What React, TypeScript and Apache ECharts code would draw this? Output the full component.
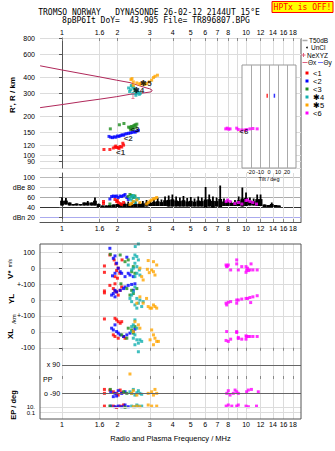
import React, { useEffect, useRef } from "react";
import * as echarts from "echarts";

// ---------- axis ticks ----------
const freqLabelTicks = [1, 1.6, 2, 3, 4, 5, 6, 7, 8, 10, 12, 14, 16, 18];
const freqGridTicks = [1, 1.6, 2, 3, 4, 5, 6, 7, 8, 9, 10, 12, 14, 16, 18];
const freqMin = 0.759;
const freqMax = 19.9;
const heightTicks = [80, 90, 100, 120, 150, 200, 300, 400, 600, 800];
const heightMin = 80;
const heightMax = 800;
const dbTicks = [20, 40, 60, 80, 100];
const dbTickLabels = ["dBn 20", "40", "60", "dBe 80", "100"];
const dbMin = 11;
const dbMax = 109;
const driftTicks = [0, 100, 200, 300, 400, 500, 600];
const driftTickLabels = ["-100", "0", "+-100", "0", "+-100", "0", "100"];
const driftMin = -58;
const driftMax = 652;
const epTicks = [-180, -212];
const epTickLabels = ["10.", "0.1"];
const epMin = -254;
const epMax = 140;
const tiltTicks = [-20, -10, 0, 10, 20];
const tiltMin = -30;
const tiltMax = 30;
const insetHMin = 79;
const insetHMax = 494;

// ---------- model profile (R' vs f) ----------
const profileF = [0.76, 1.0, 1.3, 1.61, 1.98, 2.34, 2.76, 3.0, 3.09, 3.05, 2.76, 2.34, 1.98, 1.61, 1.3, 1.0, 0.76];
const profileR = [489, 454, 424, 401, 379, 363, 336, 325, 317, 308, 302, 295, 283, 271, 260, 246, 233];

// ---------- echo heights (panel 1) ----------
const h1F = [1.69, 1.82, 1.9, 1.94, 1.98, 2.02, 2.07, 2.11, 2.16, 2.14, 1.96, 2.04];
const h1R = [111, 111, 114, 116, 115, 115, 117, 116, 120, 124, 118, 113];
const h2F = [1.8, 1.84, 1.88, 1.92, 1.96, 2.0, 2.04, 2.08, 2.12, 2.16, 2.2, 2.25, 2.3, 2.35, 2.4, 2.46, 2.5, 2.55, 2.6];
const h2R = [140, 138, 137, 139, 138, 141, 140, 142, 144, 143, 146, 147, 148, 149, 150, 152, 151, 154, 156];
const h3F = [1.83, 2.05, 2.17, 2.3, 2.34, 2.38, 2.42, 2.46, 2.5, 2.55, 2.44, 2.36, 2.52];
const h3R = [160, 172, 176, 165, 163, 167, 166, 170, 172, 174, 160, 158, 165];
const h4F = [2.3, 2.33, 2.36, 2.4, 2.43, 2.46, 2.5, 2.53, 2.56, 2.6, 2.63, 2.66, 2.38, 2.45, 2.52];
const h4R = [330, 310, 320, 340, 300, 325, 315, 300, 310, 305, 295, 300, 345, 335, 290];
const h5F = [2.37, 2.44, 2.55, 2.65, 2.76, 2.88, 2.98, 3.07, 3.14, 3.2, 3.3, 2.44, 2.65, 2.82, 2.4];
const h5R = [383, 368, 361, 357, 361, 357, 368, 379, 397, 406, 414, 346, 351, 351, 390];
const h6F = [7.76, 7.9, 8.05, 8.19, 8.9, 9.08, 9.48, 9.88, 10.1, 10.5, 10.9, 11.5];
const h6R = [160, 162, 159, 160, 162, 158, 157, 157, 158, 160, 161, 160];
const layerLabels = ["<1", "<2", "<3", "\u27314", "\u27315", "<6"];
const layerLabelF = [2.08, 2.29, 2.49, 2.6, 2.86, 9.73];
const layerLabelR = [106, 134, 158, 313, 357, 153];
const neF = [2.43];
const neR = [287];

// ---------- tilt inset ----------
const tiltXVals = [-2];
const tiltXR = [286];
const tiltYVals = [6];
const tiltYR = [286];

// ---------- amplitude panel ----------
const t50F = [1.0, 1.05, 1.1, 1.15, 1.2, 1.26, 1.32, 1.38, 1.45, 1.51, 1.58, 1.66, 1.74, 1.82, 1.91, 2.0, 2.09, 2.19, 2.29, 2.4, 2.51, 2.63, 2.75, 2.88, 3.02, 3.16, 3.31, 3.47, 3.63, 3.8, 3.98, 4.17, 4.37, 4.57, 4.79, 5.01, 5.25, 5.5, 5.75, 6.03, 6.31, 6.61, 6.92, 7.24, 7.59, 7.94, 8.32, 8.71, 9.12, 9.55, 10.0, 10.5, 11.0, 11.5, 12.0, 12.6, 13.2, 13.8, 14.5, 15.1];
const t50Hi = [60, 59, 50, 47, 48, 47, 50, 53, 50, 60, 48, 44, 44, 45, 46, 47, 48, 50, 52, 50, 52, 50, 53, 55, 54, 57, 59, 56, 62, 64, 66, 62, 60, 63, 59, 61, 58, 62, 60, 81, 66, 62, 60, 84, 58, 56, 52, 55, 62, 80, 70, 60, 58, 66, 66, 46, 45, 50, 45, 44];
const t50Lo = [44, 46, 44, 44, 44, 44, 44, 44, 44, 44, 41, 41, 41, 41, 41, 41, 41, 41, 41, 41, 41, 41, 41, 42, 43, 43, 43, 43, 43, 42, 42, 42, 42, 42, 42, 42, 42, 42, 42, 40, 42, 40, 42, 41, 43, 43, 43, 43, 43, 42, 43, 44, 44, 43, 43, 41, 41, 41, 41, 41];
const a1F = [1.68, 1.68, 1.94, 1.98, 2.02, 2.07, 2.11, 2.16, 2.0];
const a1 = [52, 48, 56, 52, 50, 48, 46, 50, 54];
const a2F = [1.82, 1.86, 1.9, 1.94, 1.98, 2.02, 2.07, 2.11, 2.16, 2.2, 2.25, 2.29];
const a2 = [57, 62, 63, 62, 63, 60, 63, 62, 64, 66, 60, 56];
const a3F = [1.82, 2.29, 2.34, 2.39, 2.44, 2.49];
const a3 = [47, 62, 66, 64, 60, 63];
const a4F = [2.34, 2.39, 2.44, 2.49, 2.55, 2.6, 2.44, 2.39, 2.5];
const a4 = [58, 62, 64, 60, 56, 58, 52, 55, 50];
const a5F = [2.34, 2.39, 2.44, 2.55, 2.65, 2.88, 2.94, 3.01, 3.07, 3.14, 3.2, 3.27];
const a5 = [46, 48, 52, 55, 50, 47, 50, 53, 55, 57, 58, 60];
const a6F = [7.8, 7.95, 8.2, 8.7, 9.1, 9.5, 10.0, 10.2, 10.5, 10.9, 11.4];
const a6 = [52, 55, 52, 48, 50, 47, 54, 55, 52, 50, 47];

// ---------- drift panel: V* (m/s), YL (km), XL (km) ----------
const v1F = [1.7, 1.7, 1.82, 1.92, 1.96, 1.98, 2.02, 2.06, 2.12, 1.94, 2.0];
const v1 = [14, -26, 83, 52, 27, -15, 0, -32, 52, -53, -63];
const yl1F = [1.7, 1.7, 1.82, 1.9, 1.94, 1.98, 2.07, 2.11, 2.02, 1.94];
const yl1 = [57, 45, 92, 72, 57, 51, 61, 82, 31, 102];
const xl1F = [1.7, 1.94, 1.98, 2.02, 2.07, 2.11, 1.94, 2.02, 1.9, 2.16, 2.2];
const xl1 = [81, 85, 75, 64, 54, 64, -29, -40, -19, -29, -40];

const v2F = [1.82, 1.94, 1.9, 1.98, 2.02, 2.07, 2.11, 2.2, 2.25, 2.29, 2.34, 2.44, 1.94, 1.88];
const v2 = [125, 77, 62, 31, 0, -22, -32, -53, 69, -32, -43, -53, -32, -48];
const yl2F = [1.86, 1.9, 1.94, 1.98, 2.07, 2.16, 2.2, 2.29, 2.39, 2.49, 2.44, 1.94];
const yl2 = [31, 41, 61, 51, 61, 72, 82, 92, 98, 102, 61, 20];
const xl2F = [1.86, 1.9, 1.98, 2.02, 2.07, 2.16, 2.25, 2.34, 2.44, 1.94, 2.49];
const xl2 = [23, 12, 2, -8, -19, -29, -19, -8, 2, 44, 17];

const v3F = [1.83, 2.07, 2.2, 2.39, 2.44, 2.49, 2.29];
const v3 = [87, 83, 41, -22, 10, -32, 52];
const yl3F = [2.09, 2.25, 2.39, 2.44, 2.55, 2.34];
const yl3 = [102, 72, 61, 41, 72, 31];
const xl3F = [2.11, 2.29, 2.39, 2.44, 2.49, 2.25];
const xl3 = [-19, 23, 12, -8, 33, -40];

const v4F = [2.55, 2.6, 2.5, 2.49, 2.55, 2.44, 2.6, 2.49, 2.55, 2.44, 2.63, 2.39, 2.55, 2.49, 2.65, 2.29];
const v4 = [167, 152, 136, 83, 73, 62, 52, 31, 10, 0, -11, -11, -32, -53, -43, 20];
const yl4F = [2.49, 2.44, 2.39, 2.55, 2.65, 2.6, 2.49, 2.39, 2.71, 2.55, 2.34, 2.76];
const yl4 = [82, 51, 31, 10, 0, -20, -31, -10, -41, -51, 10, -10];
const xl4F = [2.49, 2.44, 2.55, 2.39, 2.49, 2.44, 2.55, 2.6, 2.49, 2.65, 2.71, 2.39, 2.6];
const xl4 = [75, 44, 23, 2, -19, -40, -50, -71, -81, -50, -60, 33, -125];

const v5F = [2.94, 3.14, 3.27, 2.91, 2.98, 3.07, 3.14, 2.65, 2.71, 2.76, 3.2];
const v5 = [48, 41, 20, -7, -28, -11, -22, 0, -53, -74, -43];
const yl5F = [2.88, 2.94, 3.01, 3.14, 3.07, 3.2, 3.27, 2.76, 2.65, 2.55];
const yl5 = [10, -41, -51, -31, -51, -41, -51, -20, 20, -20];
const xl5F = [2.49, 2.6, 2.65, 2.44, 3.07, 3.14, 3.2, 3.27, 3.34, 3.14, 3.01];
const xl5 = [64, 44, 23, 2, 12, -19, -40, -60, -60, -81, -50];

const v6F = [7.79, 7.91, 8.01, 7.85, 8.9, 8.9, 8.25, 9.08, 9.48, 10.0, 10.08, 10.3, 10.5, 10.65, 10.9, 11.5, 10.0, 10.2];
const v6 = [20, 14, 20, 10, 52, 27, -11, -11, 10, 10, -11, -15, -11, 27, -11, -11, -26, 0];
const yl6F = [7.79, 7.85, 8.01, 8.25, 8.9, 8.9, 9.08, 9.48, 10.0, 10.2, 10.5, 10.9, 11.5, 10.6];
const yl6 = [-20, -31, -14, -10, 0, -20, 0, 6, 10, 10, 16, 20, 27, -16];
const xl6F = [7.85, 7.79, 8.01, 8.25, 8.9, 8.9, 9.08, 9.48, 10.0, 10.08, 10.3, 10.5, 10.9, 11.5, 10.0, 9.08];
const xl6 = [2, -54, -60, -46, 2, -4, -35, -46, -25, -29, -29, -29, -29, -29, -46, -42];

// ---------- polarization panel EP (deg) ----------
const ep1F = [1.7, 1.7, 1.82, 1.9, 1.98, 2.02, 2.07, 2.11, 1.7, 1.9, 1.98, 2.07, 2.16];
const ep1 = [-66, -91, -70, -81, -91, -102, -70, -87, -172, -172, -180, -172, -165];
const ep2F = [1.84, 1.94, 1.98, 2.02, 2.11, 2.2, 1.9, 1.84, 1.94, 2.02, 2.11, 2.2, 2.29];
const ep2 = [-81, -91, -108, -74, -91, -81, -112, -172, -176, -172, -176, -165, -176];
const ep3F = [1.83, 2.16, 2.25, 1.82, 2.2];
const ep3 = [-66, -81, -91, -172, -180];
const ep4F = [2.34, 2.39, 2.44, 2.49, 2.55, 2.6, 2.65, 2.71, 2.39, 2.49, 2.6, 2.71, 2.55];
const ep4 = [-81, -91, -66, -102, -87, -74, -91, -97, -172, -176, -172, -172, -165];
const ep5F = [2.39, 2.44, 2.55, 2.94, 3.07, 3.14, 3.27, 3.2, 2.44, 2.55, 2.94, 3.07, 3.27, 2.65, 2.34];
const ep5 = [-91, -74, -102, -91, -81, -102, -91, -66, -176, -172, -165, -172, -172, -176, 32];
const ep6F = [7.86, 8.01, 8.72, 8.9, 9.08, 10.08, 10.3, 10.7, 11.66, 8.19, 8.53, 7.8, 8.01, 8.9, 9.08, 10.0, 10.3, 11.4, 8.37];
const ep6 = [-91, -74, -70, -81, -91, -81, -70, -66, -81, -102, -91, -172, -165, -172, -165, -172, -176, -172, -172];
const epLines = [90, -90];
const epLineLabels = ["x 90", "o -90"];

// ---------- styling ----------
const RED = "#ff0000";
const BLUE = "#0000ff";
const GREEN = "#1e8c1e";
const CYAN = "#12afaf";
const ORANGE = "#ffa500";
const MAGENTA = "#ff00ff";
const PINK = "#e0607e";
const PROFILE = "#b0285a";
const FONT = "Liberation Sans";
const MONO = "'DejaVu Sans Mono', 'Liberation Mono', monospace";
const GRIDC = "#dcdcdc";
const AXC = "#555";

const L = Math.log10;
const fmtFreq = (v: number) => String(Math.round(Math.pow(10, v) * 10) / 10);
const pts = (fs: number[], vs: number[], off = 0) => fs.map((f, i) => [L(f), vs[i] + off]);
const ptsLog = (fs: number[], rs: number[]) => fs.map((f, i) => [L(f), L(rs[i])]);

function freqAxis(gridIndex: number, o: any) {
  return {
    type: "value",
    gridIndex,
    min: L(freqMin),
    max: L(freqMax),
    position: o.position,
    axisLine: { show: !!o.line, lineStyle: { color: AXC, width: 1 } },
    axisTick: { show: true, inside: true, length: 3, customValues: freqGridTicks.map(L), lineStyle: { color: "#888" } },
    axisLabel: {
      show: !!o.labels,
      customValues: freqLabelTicks.map(L),
      formatter: fmtFreq,
      fontSize: 7,
      fontFamily: FONT,
      color: "#000",
      margin: o.margin ?? 3,
    },
    splitLine: { show: true, lineStyle: { color: GRIDC, width: 1 } },
    name: o.name,
    nameLocation: "middle",
    nameGap: o.nameGap,
    nameTextStyle: { fontSize: 7.5, fontFamily: FONT, color: "#000" },
  };
}

function scat(idx: number, data: any[], color: string, z = 3) {
  return {
    type: "scatter",
    xAxisIndex: idx,
    yAxisIndex: idx,
    data,
    symbol: "rect",
    symbolSize: 3,
    itemStyle: { color },
    silent: true,
    z,
  };
}

function buildOption(): any {
  const colors = [RED, BLUE, GREEN, CYAN, ORANGE, MAGENTA];
  const hF = [h1F, h2F, h3F, h4F, h5F, h6F];
  const hR = [h1R, h2R, h3R, h4R, h5R, h6R];
  const aF = [a1F, a2F, a3F, a4F, a5F, a6F];
  const aV = [a1, a2, a3, a4, a5, a6];
  const vF = [v1F, v2F, v3F, v4F, v5F, v6F];
  const vV = [v1, v2, v3, v4, v5, v6];
  const yF = [yl1F, yl2F, yl3F, yl4F, yl5F, yl6F];
  const yV = [yl1, yl2, yl3, yl4, yl5, yl6];
  const xF = [xl1F, xl2F, xl3F, xl4F, xl5F, xl6F];
  const xV = [xl1, xl2, xl3, xl4, xl5, xl6];
  const eF = [ep1F, ep2F, ep3F, ep4F, ep5F, ep6F];
  const eV = [ep1, ep2, ep3, ep4, ep5, ep6];

  const series: any[] = [];
  // panel 1
  series.push({
    type: "line",
    xAxisIndex: 0,
    yAxisIndex: 0,
    data: ptsLog(profileF, profileR),
    showSymbol: false,
    symbol: "none",
    lineStyle: { color: PROFILE, width: 1 },
    silent: true,
    z: 2,
  });
  for (let i = 0; i < 6; i++) series.push(scat(0, ptsLog(hF[i], hR[i]), colors[i], 4));
  series.push({
    type: "scatter",
    xAxisIndex: 0,
    yAxisIndex: 0,
    data: ptsLog(neF, neR),
    symbol: "path://M0 0h3v1h-1v5h1v1h-3v-1h1v-5h-1z",
    symbolSize: [3, 6],
    itemStyle: { color: PINK },
    silent: true,
    z: 5,
  });
  series.push({
    type: "scatter",
    xAxisIndex: 0,
    yAxisIndex: 0,
    symbolSize: 0,
    silent: true,
    z: 6,
    data: layerLabelF.map((f, i) => ({
      value: [L(f), L(layerLabelR[i])],
      label: {
        show: true,
        position: "inside",
        formatter: layerLabels[i],
        fontSize: 8,
        fontWeight: "bold",
        fontFamily: FONT,
        color: "#000",
      },
    })),
  });
  // inset tilt
  series.push({
    type: "scatter",
    xAxisIndex: 1,
    yAxisIndex: 1,
    data: tiltXVals.map((t, i) => [t, L(tiltXR[i])]),
    symbol: "rect",
    symbolSize: [1.5, 4],
    itemStyle: { color: RED },
    z: 6,
  });
  series.push({
    type: "scatter",
    xAxisIndex: 1,
    yAxisIndex: 1,
    data: tiltYVals.map((t, i) => [t, L(tiltYR[i])]),
    symbol: "rect",
    symbolSize: [1.5, 4],
    itemStyle: { color: BLUE },
    z: 6,
  });
  // panel 2: T50 noise trace (body + spike per column)
  series.push({
    type: "custom",
    xAxisIndex: 2,
    yAxisIndex: 2,
    silent: true,
    clip: true,
    z: 2,
    encode: { x: 0, y: [1, 2] },
    data: t50F.map((f, i) => [L(f), t50Lo[i], t50Hi[i]]),
    renderItem: (params: any, api: any) => {
      const x = api.value(0);
      const lo = api.value(1);
      const hi = api.value(2);
      const body = Math.min(hi, lo + Math.min(16, Math.max(6, 0.6 * (hi - lo))));
      const pLo = api.coord([x, lo]);
      const pBody = api.coord([x, body]);
      const pHi = api.coord([x, hi]);
      return {
        type: "group",
        children: [
          { type: "rect", shape: { x: pLo[0] - 1.9, y: pBody[1], width: 3.8, height: pLo[1] - pBody[1] }, style: { fill: "#000" } },
          { type: "rect", shape: { x: pLo[0] - 0.9, y: pHi[1], width: 1.8, height: pLo[1] - pHi[1] }, style: { fill: "#000" } },
        ],
      };
    },
  });
  for (let i = 0; i < 6; i++) series.push(scat(2, pts(aF[i], aV[i]), colors[i], 4));
  // panel 3
  for (let i = 0; i < 6; i++)
    series.push(
      scat(3, [...pts(vF[i], vV[i], 500), ...pts(yF[i], yV[i], 300), ...pts(xF[i], xV[i], 100)], colors[i], 4)
    );
  // panel 4
  for (let i = 0; i < 6; i++) series.push(scat(4, pts(eF[i], eV[i]), colors[i], 4));
  series.push({
    type: "scatter",
    xAxisIndex: 4,
    yAxisIndex: 4,
    data: [],
    silent: true,
    z: 1,
    markLine: {
      silent: true,
      symbol: "none",
      animation: false,
      label: { show: true, position: "start", distance: 2, fontSize: 7, fontFamily: FONT, color: "#000" },
      data: [
        ...epLines.map((v, i) => [
          { coord: [L(1), v], label: { formatter: epLineLabels[i] }, lineStyle: { color: "#666", width: 1, type: "solid" } },
          { coord: [L(freqMax), v] },
        ]),
        ...epTicks.map((v, i) => [
          {
            coord: [L(freqMin), v],
            label: { formatter: epTickLabels[i], distance: 5, fontSize: 6, lineHeight: 5, offset: [0, i === 0 ? -0.5 : 0.5] },
            lineStyle: { color: GRIDC, width: 1, type: "solid" },
          },
          { coord: [L(freqMax), v] },
        ]),
      ],
    },
  });

  const yLabel = (custom: number[], fmt: (v: number) => string) => ({
    customValues: custom,
    formatter: fmt,
    fontSize: 7,
    fontFamily: FONT,
    color: "#000",
    margin: 5,
    hideOverlap: false,
  });

  const tstyle = (extra: any) => ({ fontFamily: FONT, fontSize: 7, fill: "#000", verticalAlign: "middle", ...extra });
  const legendY = [73, 81, 89, 97, 105, 113];

  const graphic: any[] = [
    { type: "text", x: 149, y: 12.5, style: { text: "TROMSO NORWAY   DYNASONDE 26-02-12 2144UT 15\u00b0E", fontFamily: MONO, fontSize: 8, fill: "#000", align: "center", verticalAlign: "middle" } },
    { type: "text", x: 156, y: 20, style: { text: "8pBP6It DoY=  43.905 File= TR896807.BPG", fontFamily: MONO, fontSize: 8, fill: "#000", align: "center", verticalAlign: "middle" } },
    { type: "rect", shape: { x: 272, y: 1.5, width: 61, height: 11 }, style: { fill: "#ffff00", stroke: "#ff0000", lineWidth: 1 } },
    { type: "text", x: 302.5, y: 7.3, style: { text: "HPTx is OFF!", fontFamily: MONO, fontSize: 8, fill: "#ff0000", align: "center", verticalAlign: "middle" } },
    // panel frames
    { type: "line", shape: { x1: 301, y1: 38, x2: 301, y2: 222 }, style: { stroke: AXC, lineWidth: 1 } },
    { type: "rect", shape: { x: 40, y: 244, width: 261, height: 175 }, style: { fill: "none", stroke: AXC, lineWidth: 1 }, z: 10 },
    // axis titles
    { type: "text", x: 12, y: 95, rotation: Math.PI / 2, style: tstyle({ text: "R', R / km", align: "center", fontWeight: "bold", fontSize: 8 }) },
    { type: "text", x: 10, y: 269, rotation: Math.PI / 2, style: { text: "{a|V*} {b|m/s}", align: "center", verticalAlign: "middle", rich: { a: { fontSize: 8, fontWeight: "bold", fontFamily: FONT, fill: "#000" }, b: { fontSize: 5, fontFamily: FONT, fill: "#000" } } } },
    { type: "text", x: 11, y: 299, rotation: Math.PI / 2, style: tstyle({ text: "YL", align: "center", fontWeight: "bold", fontSize: 8 }) },
    { type: "text", x: 14, y: 319, rotation: Math.PI / 2, style: tstyle({ text: "/km", align: "center", fontSize: 6 }) },
    { type: "text", x: 10.5, y: 334, rotation: Math.PI / 2, style: tstyle({ text: "XL", align: "center", fontWeight: "bold", fontSize: 8 }) },
    { type: "text", x: 13, y: 405, rotation: Math.PI / 2, style: tstyle({ text: "EP / deg", align: "center", fontWeight: "bold", fontSize: 7.5 }) },
    { type: "text", x: 43, y: 379, style: tstyle({ text: "PP" }) },
    // legend
    { type: "line", shape: { x1: 302.5, y1: 40.5, x2: 307.5, y2: 40.5 }, style: { stroke: "#aaa", lineWidth: 1.5 } },
    { type: "text", x: 309, y: 40.5, style: tstyle({ text: "T50dB", fontSize: 6.5 }) },
    { type: "circle", shape: { cx: 307, cy: 47.5, r: 0.8 }, style: { fill: "#000" } },
    { type: "text", x: 311, y: 47.5, style: tstyle({ text: "UnCl", fontSize: 6.5 }) },
    { type: "line", shape: { x1: 301.5, y1: 55, x2: 305.5, y2: 55 }, style: { stroke: PINK, lineWidth: 1 } },
    { type: "line", shape: { x1: 303.5, y1: 53, x2: 303.5, y2: 57 }, style: { stroke: PINK, lineWidth: 1 } },
    { type: "text", x: 307, y: 55, style: tstyle({ text: "NeXYZ", fontSize: 6.5 }) },
    { type: "line", shape: { x1: 302.5, y1: 62.5, x2: 307.5, y2: 62.5 }, style: { stroke: PINK, lineWidth: 1 } },
    { type: "text", x: 308, y: 62.5, style: tstyle({ text: "\u0398x", fontSize: 6.5 }) },
    { type: "line", shape: { x1: 318, y1: 62.5, x2: 323, y2: 62.5 }, style: { stroke: "#7070ff", lineWidth: 1 } },
    { type: "text", x: 323.5, y: 62.5, style: tstyle({ text: "\u0398y", fontSize: 6.5 }) },
  ];
  for (let i = 0; i < 6; i++) {
    graphic.push({ type: "rect", shape: { x: 305.5, y: legendY[i] - 1.5, width: 3, height: 3 }, style: { fill: colors[i] } });
    graphic.push({ type: "text", x: 313, y: legendY[i], style: tstyle({ text: layerLabels[i], fontSize: 7.5 }) });
  }

  return {
    animation: false,
    backgroundColor: "#fff",
    grid: [
      { left: 40, top: 38, width: 261, height: 130 },
      { left: 242, top: 65, width: 54, height: 103, show: true, backgroundColor: "#fff", borderColor: "#999", borderWidth: 1, z: 1 },
      { left: 40, top: 173, width: 261, height: 49 },
      { left: 40, top: 244, width: 261, height: 113 },
      { left: 40, top: 357, width: 261, height: 62 },
    ],
    xAxis: [
      freqAxis(0, { position: "top", labels: true, margin: 2 }),
      {
        type: "value",
        gridIndex: 1,
        min: tiltMin,
        max: tiltMax,
        z: 2,
        axisLine: { show: false },
        axisTick: { show: false, customValues: tiltTicks },
        axisLabel: { customValues: tiltTicks, fontSize: 5.5, fontFamily: FONT, color: "#000", margin: 1 },
        splitLine: { show: true, lineStyle: { color: "#aaa" } },
        name: "Tilt / deg",
        nameLocation: "middle",
        nameGap: 6.5,
        nameTextStyle: { fontSize: 5.5, fontFamily: FONT, color: "#000" },
      },
      freqAxis(2, { position: "bottom", labels: true, line: true, margin: 3 }),
      freqAxis(3, { position: "top", labels: false }),
      freqAxis(4, { position: "bottom", labels: true, margin: 1.5, name: "Radio and Plasma Frequency / MHz", nameGap: 15 }),
    ],
    yAxis: [
      {
        type: "value",
        gridIndex: 0,
        min: L(heightMin),
        max: L(heightMax),
        axisLine: { show: true, lineStyle: { color: AXC } },
        axisTick: { show: true, length: 3, customValues: heightTicks.map(L), lineStyle: { color: AXC } },
        axisLabel: yLabel(heightTicks.map(L), (v: number) => String(Math.round(Math.pow(10, v)))),
        splitLine: { show: true, lineStyle: { color: GRIDC } },
      },
      {
        type: "value",
        gridIndex: 1,
        min: L(insetHMin),
        max: L(insetHMax),
        z: 2,
        axisLine: { show: false },
        axisTick: { show: false },
        axisLabel: { show: false },
        splitLine: { show: false },
      },
      {
        type: "value",
        gridIndex: 2,
        min: dbMin,
        max: dbMax,
        axisLine: { show: true, lineStyle: { color: AXC } },
        axisTick: { show: true, length: 3, customValues: dbTicks, lineStyle: { color: AXC } },
        axisLabel: yLabel(dbTicks, (v: number) => dbTickLabels[dbTicks.indexOf(v)] ?? ""),
        splitLine: { show: true, lineStyle: { color: ["#aaaaee", "#333", "#aaa", "#c8c8c8", "#bbb"] } },
      },
      {
        type: "value",
        gridIndex: 3,
        min: driftMin,
        max: driftMax,
        axisLine: { show: false },
        axisTick: { show: true, length: 3, customValues: driftTicks, lineStyle: { color: AXC } },
        axisLabel: yLabel(driftTicks, (v: number) => driftTickLabels[driftTicks.indexOf(v)] ?? ""),
        splitLine: { show: true, lineStyle: { color: GRIDC } },
      },
      {
        type: "value",
        gridIndex: 4,
        min: epMin,
        max: epMax,
        axisLine: { show: false },
        axisTick: { show: false },
        axisLabel: { show: false },
        splitLine: { show: false },
      },
    ],
    series,
    graphic,
  };
}

export default function App() {
  const ref = useRef<HTMLDivElement>(null);
  useEffect(() => {
    if (!ref.current) return;
    const chart = echarts.init(ref.current, null, { renderer: "svg" });
    chart.setOption(buildOption());
    return () => chart.dispose();
  }, []);
  return (
    <div
      ref={ref}
      style={{ position: "fixed", left: 0, top: 0, width: 335, height: 451, background: "#fff" }}
    />
  );
}
